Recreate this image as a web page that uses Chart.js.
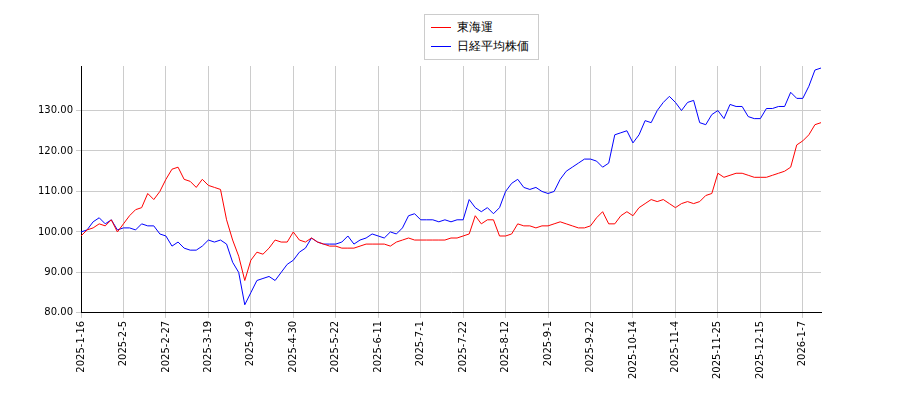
<!DOCTYPE html>
<html>
<head>
<meta charset="utf-8">
<script src="https://cdn.jsdelivr.net/npm/chart.js@4/dist/chart.umd.min.js"></script>
<style>
html,body{margin:0;background:#fff}
#wrap{width:900px;height:400px;position:relative}
#legend{position:absolute;left:424px;top:14px;width:115px;border:1px solid #ccc;background:#fff;
  font:12px 'DejaVu Sans',sans-serif;padding:3px 6px;box-sizing:border-box}
#legend div{display:flex;align-items:center;height:19px}
#legend span.k{display:inline-block;width:20px;height:0;border-top:1px solid;margin-right:6px}
</style>
</head>
<body>
<div id="wrap"><canvas id="c"></canvas><div id="legend"></div></div>
<script>
// Tick dates every 7 points (points are ~2 trading days apart)
const tickLabels = ['2025-1-16','2025-2-5','2025-2-27','2025-3-19','2025-4-9','2025-4-30','2025-5-22','2025-6-11','2025-7-1','2025-7-22','2025-8-12','2025-9-1','2025-9-22','2025-10-14','2025-11-4','2025-11-25','2025-12-15','2026-1-7'];

const tokai = [
  99,100.5,101,102,101.5,103,100,
  102,104,105.5,106,109.5,108,110,
  113,115.5,116,113,112.5,111,113,
  111.5,111,110.5,103,98,94,88,
  93,95,94.5,96,98,97.5,97.5,
  100,98,97.5,98.5,97.5,97,96.5,
  96.5,96,96,96,96.5,97,97,
  97,97,96.5,97.5,98,98.5,98,
  98,98,98,98,98,98.5,98.5,
  99,99.5,104,102,103,103,99,
  99,99.5,102,101.5,101.5,101,101.5,
  101.5,102,102.5,102,101.5,101,101,
  101.5,103.5,105,102,102,104,105,
  104,106,107,108,107.5,108,107,
  106,107,107.5,107,107.5,109,109.5,
  114.5,113.5,114,114.5,114.5,114,113.5,
  113.5,113.5,114,114.5,115,116,121.5,
  122.5,124,126.5,127
];

const nikkei = [
  100,100.5,102.5,103.5,102,103,100.5,
  101,101,100.5,102,101.5,101.5,99.5,
  99,96.5,97.5,96,95.5,95.5,96.5,
  98,97.5,98,97,92.5,90,82,
  85,88,88.5,89,88,90,92,
  93,95,96,98.5,97.5,97,97,
  97,97.5,99,97,98,98.5,99.5,
  99,98.5,100,99.5,101,104,104.5,
  103,103,103,102.5,103,102.5,103,
  103,108,106,105,106,104.5,106,
  110,112,113,111,110.5,111,110,
  109.5,110,113,115,116,117,118,
  118,117.5,116,117,124,124.5,125,
  122,124,127.5,127,130,132,133.5,
  132,130,132,132.5,127,126.5,129,
  130,128,131.5,131,131,128.5,128,
  128,130.5,130.5,131,131,134.5,133,
  133,136,140,140.5
];

const seriesNames = ['東海運', '日経平均株価'];
const seriesColors = ['#ff0000', '#0000ff'];

const labels = tokai.map((_, i) => (i % 7 === 0 && tickLabels[i / 7]) ? tickLabels[i / 7] : '');

document.getElementById('legend').innerHTML = seriesNames
  .map((n, i) => `<div><span class="k" style="border-color:${seriesColors[i]}"></span>${n}</div>`).join('');

const line = (label, data, color) => ({
  label, data, borderColor: color, backgroundColor: color,
  borderWidth: 1, pointRadius: 0, tension: 0,
});

new Chart(document.getElementById('c'), {
  type: 'line',
  data: { labels, datasets: [line(seriesNames[0], tokai, seriesColors[0]), line(seriesNames[1], nikkei, seriesColors[1])] },
  options: {
    responsive: true, maintainAspectRatio: false, animation: false,
    layout: { padding: { left: 0, right: 79, top: 66, bottom: 18 } },
    plugins: { legend: { display: false }, tooltip: { enabled: false } },
    scales: {
      x: {
        offset: false,
        grid: { color: '#cccccc', tickLength: 5 },
        border: { color: '#000' },
        ticks: {
          autoSkip: false, maxRotation: 90, minRotation: 90, color: '#000',
          font: { family: 'DejaVu Sans', size: 10 },
          callback: (v, i) => labels[i] || null,
        },
      },
      y: {
        min: 80, max: 141,
        afterFit: (s) => { s.width = 81; },
        afterBuildTicks: (s) => { s.ticks = s.ticks.filter((t) => t.value % 10 === 0); },
        grid: { color: '#cccccc', tickLength: 5 },
        border: { color: '#000' },
        ticks: { stepSize: 10, color: '#000', font: { family: 'DejaVu Sans', size: 10 }, callback: (v) => v.toFixed(2) },
      },
    },
  },
});
</script>
</body>
</html>
